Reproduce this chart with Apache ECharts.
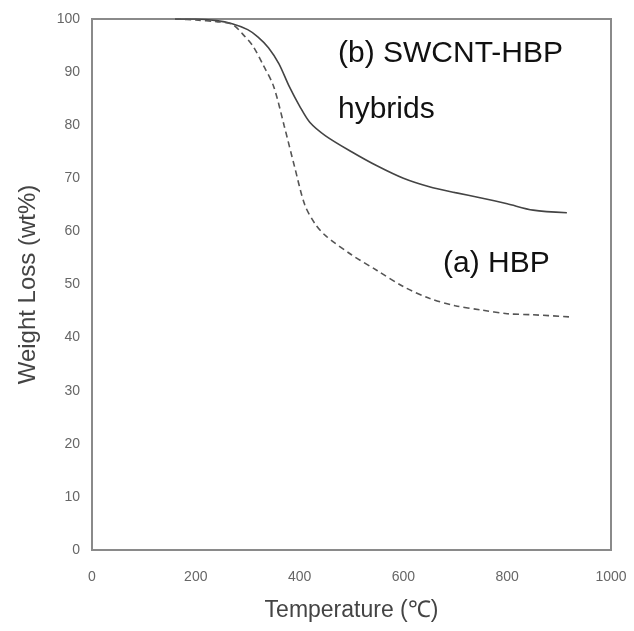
<!DOCTYPE html>
<html>
<head>
<meta charset="utf-8">
<script src="https://cdn.jsdelivr.net/npm/echarts@6/dist/echarts.min.js"></script>
<style>html,body{margin:0;padding:0;background:#fff}#c{width:634px;height:631px}</style>
</head>
<body>
<div id="c"></div>
<script>
var xTicks = [0, 200, 400, 600, 800, 1000];
var yTicks = [0, 10, 20, 30, 40, 50, 60, 70, 80, 90, 100];

var hybridT = [160, 200, 240, 270, 300, 320, 340, 360, 380, 400, 420, 450, 500, 550, 600, 650, 700, 750, 800, 850, 915];
var hybridW = [100, 100, 99.7, 99.1, 98.0, 96.6, 94.6, 91.6, 87.3, 83.6, 80.5, 78.0, 75.0, 72.3, 70.0, 68.4, 67.3, 66.3, 65.2, 64.0, 63.5];

var hbpT = [160, 200, 240, 270, 290, 310, 330, 350, 370, 390, 410, 430, 450, 500, 550, 600, 650, 700, 750, 800, 850, 919];
var hbpW = [100, 99.8, 99.5, 99.0, 97.2, 94.9, 91.3, 87.3, 80.0, 72.3, 65.0, 61.4, 59.2, 55.6, 52.6, 49.6, 47.4, 46.0, 45.2, 44.5, 44.3, 43.9];

function pairs(xs, ys) { return xs.map(function (x, i) { return [x, ys[i]]; }); }

var FONT = '"Liberation Sans", Arial, sans-serif';
var chart = echarts.init(document.getElementById('c'));
chart.setOption({
  animation: false,
  backgroundColor: '#fff',
  grid: { left: 92, top: 19, right: 23, bottom: 81, show: true, borderColor: '#8a8a8a', borderWidth: 2, backgroundColor: 'transparent' },
  xAxis: {
    type: 'value', min: xTicks[0], max: xTicks[xTicks.length - 1], interval: 200,
    axisLine: { show: false }, axisTick: { show: false }, splitLine: { show: false },
    axisLabel: { color: '#666', fontSize: 14, fontFamily: FONT, margin: 20, formatter: function (v) { return String(v); } },
    name: 'Temperature (\u2103)', nameLocation: 'middle', nameGap: 49,
    nameTextStyle: { color: '#444', fontSize: 23, fontFamily: FONT }
  },
  yAxis: {
    type: 'value', min: yTicks[0], max: yTicks[yTicks.length - 1], interval: 10,
    axisLine: { show: false }, axisTick: { show: false }, splitLine: { show: false },
    axisLabel: { color: '#666', fontSize: 14, fontFamily: FONT, margin: 12 },
    name: 'Weight Loss (wt%)', nameLocation: 'middle', nameGap: 52,
    nameTextStyle: { color: '#444', fontSize: 24, fontFamily: FONT }
  },
  series: [
    {
      name: '(b) SWCNT-HBP hybrids', type: 'line', smooth: 0.3, showSymbol: false,
      data: pairs(hybridT, hybridW),
      lineStyle: { color: '#444', width: 1.6 }
    },
    {
      name: '(a) HBP', type: 'line', smooth: 0.3, showSymbol: false,
      data: pairs(hbpT, hbpW),
      lineStyle: { color: '#555', width: 1.6, type: [6, 4] }
    }
  ],
  graphic: [
    { type: 'text', left: 338, top: 39, style: { text: '(b) SWCNT-HBP', fill: '#111', font: '30px ' + FONT } },
    { type: 'text', left: 338, top: 95, style: { text: 'hybrids', fill: '#111', font: '30px ' + FONT } },
    { type: 'text', left: 443, top: 249, style: { text: '(a) HBP', fill: '#111', font: '30px ' + FONT } }
  ]
});
</script>
</body>
</html>
